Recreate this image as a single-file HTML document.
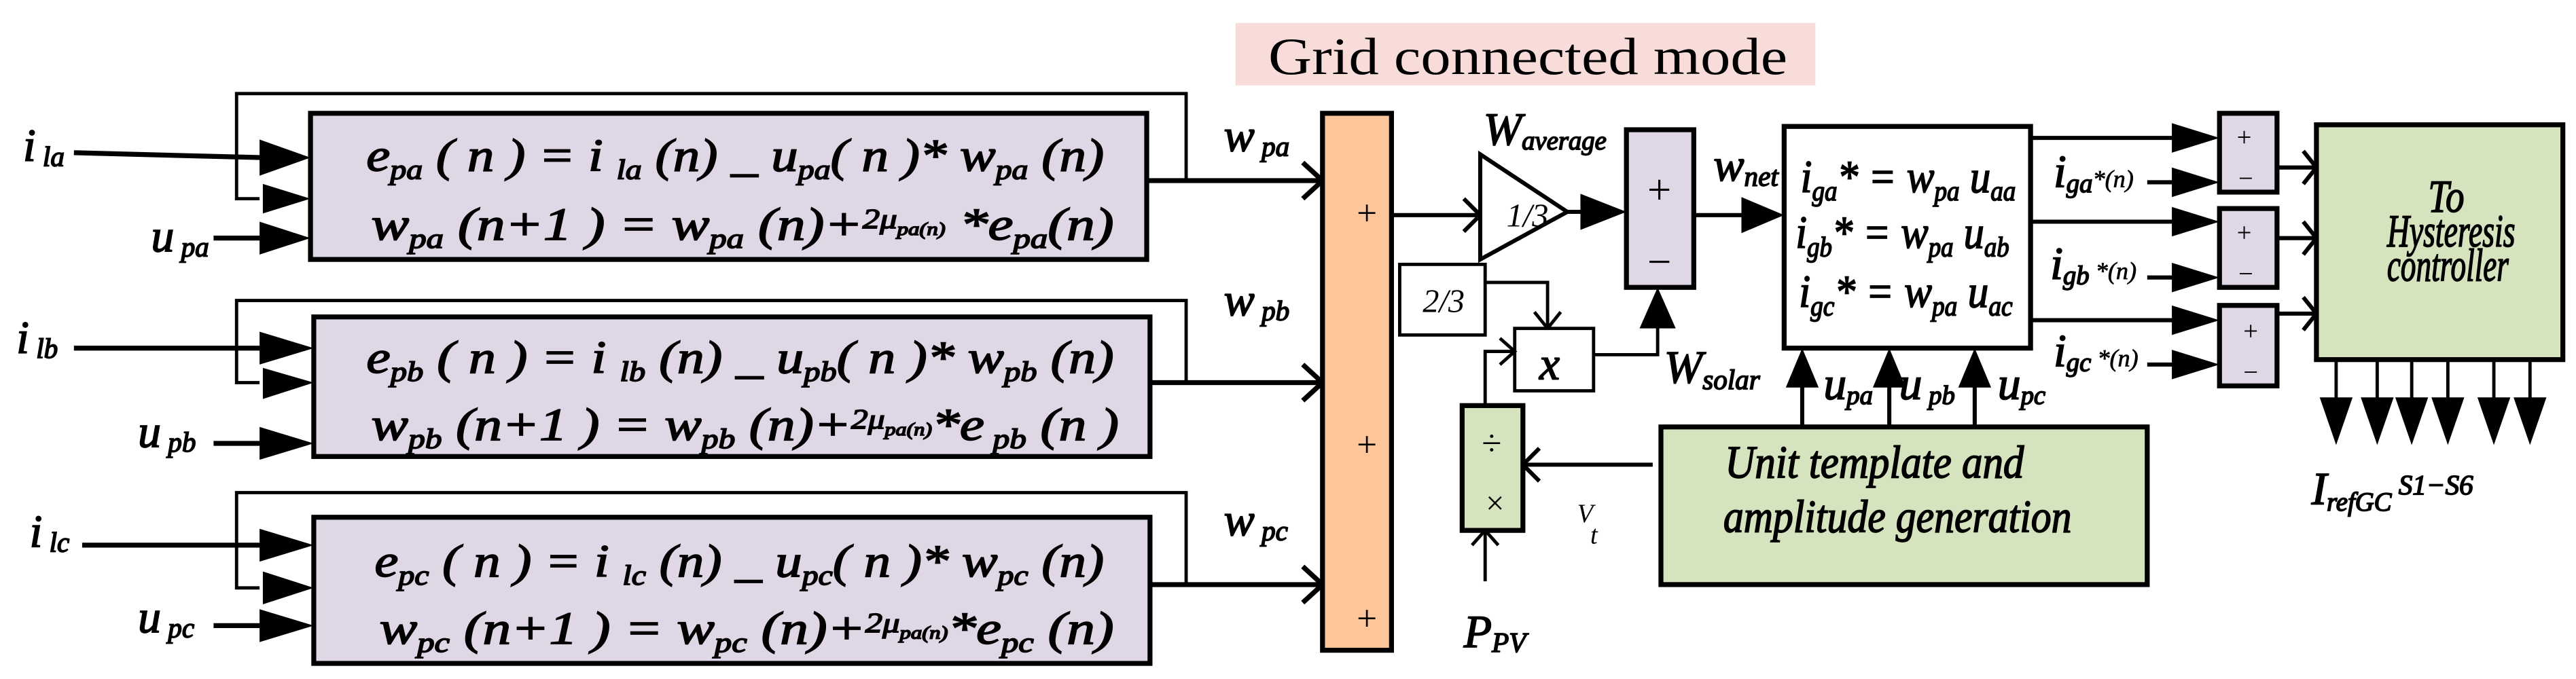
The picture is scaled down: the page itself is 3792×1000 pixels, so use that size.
<!DOCTYPE html>
<html><head><meta charset="utf-8"><style>
html,body{margin:0;padding:0;background:#fff;}
svg{display:block;}
text{font-family:"Liberation Serif","DejaVu Serif",serif;}
.e{font-style:italic;font-weight:normal;font-size:28px;stroke:#000;stroke-width:0.7px;}
.s{font-size:17px;}
</style></head><body>
<svg width="3792" height="1000" viewBox="0 0 1568 413.5" preserveAspectRatio="none" xmlns="http://www.w3.org/2000/svg">
<rect x="752" y="14" width="353" height="38" fill="#f8dcd9"/>
<text x="772" y="45" font-size="32" textLength="316" lengthAdjust="spacingAndGlyphs">Grid connected mode</text>

<g stroke="#000" fill="none">
<polyline points="698,110 722,110 722,57 144,57 144,121 158,121" stroke-width="2"/>
<polyline points="700,233 722,233 722,183 144,183 144,233 158,233" stroke-width="2"/>
<polyline points="700,356 722,356 722,300 144,300 144,358 158,358" stroke-width="2"/>
<line x1="45" y1="93" x2="160" y2="96" stroke-width="3"/>
<line x1="130" y1="145" x2="160" y2="145" stroke-width="3"/>
<line x1="45" y1="212" x2="160" y2="212" stroke-width="3"/>
<line x1="130" y1="270" x2="160" y2="270" stroke-width="3"/>
<line x1="50" y1="332" x2="160" y2="332" stroke-width="3"/>
<line x1="130" y1="381" x2="160" y2="381" stroke-width="3"/>
<line x1="698" y1="110" x2="805" y2="110" stroke-width="3"/>
<line x1="700" y1="233" x2="805" y2="233" stroke-width="3"/>
<line x1="700" y1="356" x2="805" y2="356" stroke-width="3"/>
<polyline points="793,99 805,110 793,121" stroke-width="3"/>
<polyline points="793,222 805,233 793,244" stroke-width="3"/>
<polyline points="793,345 805,356 793,367" stroke-width="3"/>
</g>
<g fill="#000">
<polygon points="158,85 189,96 158,107"/>
<polygon points="160,112 189,121 160,130"/>
<polygon points="158,135 189,145 158,155"/>
<polygon points="158,202 191,212 158,222"/>
<polygon points="160,224 191,233 160,243"/>
<polygon points="158,260 191,270 158,280"/>
<polygon points="158,322 191,332 158,342"/>
<polygon points="160,348 191,358 160,368"/>
<polygon points="158,371 191,381 158,391"/>
</g>

<rect x="189" y="69" width="509" height="89" fill="#e0d7e6" stroke="#000" stroke-width="3"/>
<rect x="191" y="193" width="509" height="85" fill="#e0d7e6" stroke="#000" stroke-width="3"/>
<rect x="191" y="315" width="509" height="89" fill="#e0d7e6" stroke="#000" stroke-width="3"/>

<g class="e">
<text x="223" y="104" textLength="449" lengthAdjust="spacingAndGlyphs">e<tspan class="s" dy="5">pa</tspan><tspan dy="-5">  ( n ) = i </tspan><tspan class="s" dy="5">la</tspan><tspan dy="-5"> (n) _ u</tspan><tspan class="s" dy="5">pa</tspan><tspan dy="-5">( n )* w</tspan><tspan class="s" dy="5">pa</tspan><tspan dy="-5"> (n)</tspan></text>
<text x="226" y="146" textLength="452" lengthAdjust="spacingAndGlyphs">w<tspan class="s" dy="5">pa</tspan><tspan dy="-5"> (n+1 ) = w</tspan><tspan class="s" dy="5">pa</tspan><tspan dy="-5"> (n)+</tspan><tspan class="s" dy="-7">2μ</tspan><tspan font-size="11" dy="4">pa(n)</tspan><tspan dy="3"> *e</tspan><tspan class="s" dy="5">pa</tspan><tspan dy="-5">(n)</tspan></text>
<text x="223" y="227" textLength="455" lengthAdjust="spacingAndGlyphs">e<tspan class="s" dy="5">pb</tspan><tspan dy="-5">  ( n ) = i </tspan><tspan class="s" dy="5">lb</tspan><tspan dy="-5"> (n) _ u</tspan><tspan class="s" dy="5">pb</tspan><tspan dy="-5">( n )* w</tspan><tspan class="s" dy="5">pb</tspan><tspan dy="-5"> (n)</tspan></text>
<text x="226" y="268" textLength="455" lengthAdjust="spacingAndGlyphs">w<tspan class="s" dy="5">pb</tspan><tspan dy="-5"> (n+1 ) = w</tspan><tspan class="s" dy="5">pb</tspan><tspan dy="-5"> (n)+</tspan><tspan class="s" dy="-7">2μ</tspan><tspan font-size="11" dy="4">pa(n)</tspan><tspan dy="3">*e</tspan><tspan class="s" dy="5"> pb</tspan><tspan dy="-5">  (n )</tspan></text>
<text x="228" y="351" textLength="444" lengthAdjust="spacingAndGlyphs">e<tspan class="s" dy="5">pc</tspan><tspan dy="-5">  ( n ) = i </tspan><tspan class="s" dy="5">lc</tspan><tspan dy="-5"> (n) _ u</tspan><tspan class="s" dy="5">pc</tspan><tspan dy="-5">( n )* w</tspan><tspan class="s" dy="5">pc</tspan><tspan dy="-5"> (n)</tspan></text>
<text x="231" y="392" textLength="447" lengthAdjust="spacingAndGlyphs">w<tspan class="s" dy="5">pc</tspan><tspan dy="-5"> (n+1 ) = w</tspan><tspan class="s" dy="5">pc</tspan><tspan dy="-5"> (n)+</tspan><tspan class="s" dy="-7">2μ</tspan><tspan font-size="11" dy="4">pa(n)</tspan><tspan dy="3">*e</tspan><tspan class="s" dy="5">pc</tspan><tspan dy="-5">  (n)</tspan></text>
</g>

<g class="e">
<text x="14" y="98">i<tspan class="s" dy="3"> la</tspan></text>
<text x="92" y="153">u<tspan class="s" dy="3"> pa</tspan></text>
<text x="10" y="215">i<tspan class="s" dy="3"> lb</tspan></text>
<text x="84" y="272">u<tspan class="s" dy="3"> pb</tspan></text>
<text x="18" y="333">i<tspan class="s" dy="3"> lc</tspan></text>
<text x="84" y="385">u<tspan class="s" dy="3"> pc</tspan></text>
<text x="745" y="92">w<tspan class="s" dy="3"> pa</tspan></text>
<text x="745" y="192">w<tspan class="s" dy="3"> pb</tspan></text>
<text x="745" y="326">w<tspan class="s" dy="3"> pc</tspan></text>
</g>

<rect x="805" y="69" width="42" height="327" fill="#fcc59a" stroke="#000" stroke-width="3"/>
<g font-size="22" text-anchor="middle"><text x="832" y="137">+</text><text x="832" y="278">+</text><text x="832" y="384">+</text></g>

<g stroke="#000" fill="none">
<line x1="847" y1="131" x2="901" y2="131" stroke-width="2.5"/>
<polyline points="891,121 901,131 891,141" stroke-width="2.5"/>
<polygon points="901,94 954,129 901,158" fill="#fff" stroke-width="2.5"/>
<line x1="954" y1="129" x2="962" y2="129" stroke-width="2.5"/>
<line x1="1031" y1="131" x2="1060" y2="131" stroke-width="2.5"/>
<rect x="852" y="161" width="52" height="43" fill="#fff" stroke-width="2"/>
<polyline points="904,172 942,172 942,200" stroke-width="2"/>
<polyline points="934,190 942,200 950,190" stroke-width="2"/>
<rect x="922" y="200" width="48" height="38" fill="#fff" stroke-width="2"/>
<polyline points="970,216 1009,216 1009,195" stroke-width="2"/>
<polyline points="904,247 904,214 922,214" stroke-width="2"/>
<polyline points="913,206 922,214 913,222" stroke-width="2"/>
<line x1="904" y1="323" x2="904" y2="354" stroke-width="2"/>
<polyline points="896,332 904,323 912,332" stroke-width="2"/>
<line x1="927" y1="283" x2="1006" y2="283" stroke-width="2.5"/>
<polyline points="937,273 927,283 937,293" stroke-width="2.5"/>
</g>
<g fill="#000">
<polygon points="962,118 990,129 962,140"/>
<polygon points="1060,120 1086,131 1060,142"/>
<polygon points="1009,175 998,200 1020,200"/>
</g>
<text x="917" y="138" font-style="italic" font-size="20">1/3</text>
<text x="866" y="190" font-style="italic" font-size="20">2/3</text>
<text x="937" y="231" class="e" font-size="28">x</text>
<text x="903" y="88" class="e">W<tspan font-size="16" dy="3">average</tspan></text>
<text x="1013" y="233" class="e">W<tspan font-size="17" dy="4">solar</tspan></text>
<text x="1043" y="110" class="e">w<tspan font-size="17" dy="3">net</tspan></text>

<rect x="990" y="79" width="41" height="96" fill="#e0d7e6" stroke="#000" stroke-width="3"/>
<text x="1010" y="124" font-size="26" text-anchor="middle">+</text>
<text x="1010" y="168" font-size="26" text-anchor="middle">−</text>

<rect x="890" y="247" width="37" height="76" fill="#d6e3bf" stroke="#000" stroke-width="3"/>
<text x="908" y="277" font-size="22" text-anchor="middle">÷</text>
<text x="910" y="313" font-size="20" text-anchor="middle">×</text>
<text x="891" y="394" class="e">P<tspan font-size="17" dy="3">PV</tspan></text>
<text x="960" y="318" font-style="italic" font-size="16">V</text>
<text x="968" y="331" font-style="italic" font-size="16">t</text>

<rect x="1086" y="77" width="150" height="135" fill="#fff" stroke="#000" stroke-width="3"/>
<g class="e" font-size="26">
<text x="1096" y="117" textLength="131" lengthAdjust="spacingAndGlyphs">i<tspan class="s" dy="5">ga</tspan><tspan dy="-5">* = w</tspan><tspan class="s" dy="5">pa</tspan><tspan dy="-5">  u</tspan><tspan class="s" dy="5">aa</tspan></text>
<text x="1093" y="151" textLength="130" lengthAdjust="spacingAndGlyphs">i<tspan class="s" dy="5">gb</tspan><tspan dy="-5">* = w</tspan><tspan class="s" dy="5">pa</tspan><tspan dy="-5">  u</tspan><tspan class="s" dy="5">ab</tspan></text>
<text x="1095" y="187" textLength="130" lengthAdjust="spacingAndGlyphs">i<tspan class="s" dy="5">gc</tspan><tspan dy="-5">* = w</tspan><tspan class="s" dy="5">pa</tspan><tspan dy="-5">  u</tspan><tspan class="s" dy="5">ac</tspan></text>
</g>
<g stroke="#000" stroke-width="2.5">
<line x1="1097" y1="260" x2="1097" y2="225"/>
<line x1="1150" y1="260" x2="1150" y2="225"/>
<line x1="1202" y1="260" x2="1202" y2="225"/>
<line x1="1236" y1="84" x2="1325" y2="84"/>
<line x1="1236" y1="135" x2="1325" y2="135"/>
<line x1="1236" y1="195" x2="1325" y2="195"/>
<line x1="1307" y1="111" x2="1325" y2="111"/>
<line x1="1307" y1="169" x2="1325" y2="169"/>
<line x1="1307" y1="222" x2="1325" y2="222"/>
</g>
<g fill="#000">
<polygon points="1097,212 1087,236 1107,236"/>
<polygon points="1150,212 1140,236 1160,236"/>
<polygon points="1202,212 1192,236 1212,236"/>
<polygon points="1322,75 1351,84 1322,93"/>
<polygon points="1322,102 1351,111 1322,120"/>
<polygon points="1322,126 1351,135 1322,144"/>
<polygon points="1322,160 1351,169 1322,178"/>
<polygon points="1322,186 1351,195 1322,204"/>
<polygon points="1322,213 1351,222 1322,231"/>
</g>
<g class="e" font-size="22">
<text x="1110" y="243">u<tspan font-size="16" dy="3">pa</tspan></text>
<text x="1156" y="243">u<tspan font-size="16" dy="3"> pb</tspan></text>
<text x="1216" y="243">u<tspan font-size="16" dy="3">pc</tspan></text>
<text x="1250" y="114">i<tspan font-size="16" dy="3">ga</tspan><tspan font-size="15" dy="-3" stroke-width="0.3">*(n)</tspan></text>
<text x="1248" y="170">i<tspan font-size="16" dy="3">gb</tspan><tspan font-size="15" dy="-3" stroke-width="0.3"> *(n)</tspan></text>
<text x="1250" y="223">i<tspan font-size="16" dy="3">gc</tspan><tspan font-size="15" dy="-3" stroke-width="0.3"> *(n)</tspan></text>
</g>

<g fill="#e0d7e6" stroke="#000" stroke-width="3">
<rect x="1351" y="69" width="35" height="48"/>
<rect x="1351" y="127" width="35" height="48"/>
<rect x="1351" y="186" width="35" height="49"/>
</g>
<g font-size="16" text-anchor="middle">
<text x="1366" y="89">+</text><text x="1367" y="114">−</text>
<text x="1366" y="147">+</text><text x="1367" y="172">−</text>
<text x="1370" y="207">+</text><text x="1370" y="232">−</text>
</g>
<g stroke="#000" stroke-width="2.5" fill="none">
<line x1="1386" y1="102" x2="1410" y2="102"/>
<line x1="1386" y1="145" x2="1410" y2="145"/>
<line x1="1386" y1="191" x2="1410" y2="191"/>
<polyline points="1402,92 1410,102 1402,112"/>
<polyline points="1402,135 1410,145 1402,155"/>
<polyline points="1402,181 1410,191 1402,201"/>
</g>

<rect x="1011" y="260" width="296" height="96" fill="#d6e3bf" stroke="#000" stroke-width="3"/>
<text x="1050" y="291" class="e" font-size="26" textLength="182" lengthAdjust="spacingAndGlyphs">Unit template and</text>
<text x="1049" y="324" class="e" font-size="26" textLength="212" lengthAdjust="spacingAndGlyphs">amplitude generation</text>

<rect x="1410" y="76" width="150" height="143" fill="#d6e3bf" stroke="#000" stroke-width="3"/>
<g class="e" font-size="19">
<text x="1478" y="129" textLength="22" lengthAdjust="spacingAndGlyphs">To</text>
<text x="1453" y="150" textLength="78" lengthAdjust="spacingAndGlyphs">Hysteresis</text>
<text x="1453" y="171" textLength="74" lengthAdjust="spacingAndGlyphs">controller</text>
</g>
<g stroke="#000" stroke-width="2">
<line x1="1422" y1="219" x2="1422" y2="245"/><line x1="1447" y1="219" x2="1447" y2="245"/>
<line x1="1468" y1="219" x2="1468" y2="245"/><line x1="1490" y1="219" x2="1490" y2="245"/>
<line x1="1518" y1="219" x2="1518" y2="245"/><line x1="1540" y1="219" x2="1540" y2="245"/>
</g>
<g fill="#000">
<polygon points="1412,242 1432,242 1422,271"/><polygon points="1437,242 1457,242 1447,271"/>
<polygon points="1458,242 1478,242 1468,271"/><polygon points="1480,242 1500,242 1490,271"/>
<polygon points="1508,242 1528,242 1518,271"/><polygon points="1530,242 1550,242 1540,271"/>
</g>
<text x="1407" y="307" class="e" font-size="24">I<tspan font-size="16" dy="4">refGC</tspan><tspan font-size="17" dy="-10"> S1−S6</tspan></text>
</svg>
</body></html>
